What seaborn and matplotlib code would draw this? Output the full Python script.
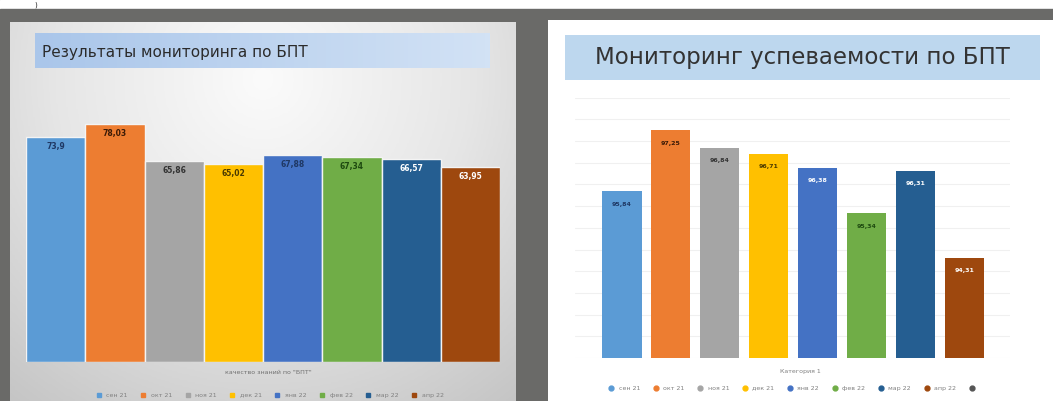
import numpy as np
import pandas as pd
import matplotlib
matplotlib.use("Agg")
import matplotlib.pyplot as plt
from matplotlib.patches import Rectangle
from matplotlib.lines import Line2D
from matplotlib.colors import LinearSegmentedColormap
import seaborn as sns

# data
periods = ["сен 21", "окт 21", "ноя 21", "дек 21", "янв 22", "фев 22", "мар 22", "апр 22"]
quality_values = [73.9, 78.03, 65.86, 65.02, 67.88, 67.34, 66.57, 63.95]
progress_values = [95.84, 97.25, 96.84, 96.71, 96.38, 95.34, 96.31, 94.31]
left_title = "Результаты мониторинга по БПТ"
right_title = "Мониторинг успеваемости по БПТ"
left_xlabel = "качество знаний по \"БПТ\""
right_xlabel = "Категория 1"

colors = ["#5B9BD5", "#ED7D31", "#A5A5A5", "#FFC000", "#4472C4", "#70AD47", "#255E91", "#9E480E"]
left_text = ["#1f3864", "#3b1a06", "#333333", "#4a3a00", "#1f3864", "#1e4a10", "#ffffff", "#ffffff"]
right_text = ["#1f3864", "#3b1a06", "#333333", "#4a3a00", "#ffffff", "#1e4a10", "#ffffff", "#ffffff"]

sns.set_style("white")
plt.rcParams['font.family'] = ['DejaVu Sans']

W, H = 1053, 401
fig = plt.figure(figsize=(W / 100, H / 100), dpi=100)
fig.patch.set_facecolor("#666666")


def box(x0, y0, x1, y1):
    return [x0 / W, 1 - y1 / H, (x1 - x0) / W, (y1 - y0) / H]


# background: white strip on top of the photo
bg = fig.add_axes([0, 0, 1, 1])
bg.set_xlim(0, W)
bg.set_ylim(H, 0)
bg.axis("off")
bg.add_patch(Rectangle((0, 0), W, 9, color="white"))
bg.add_patch(Rectangle((0, 9), W, H, color="#6a6a68"))
bg.text(36, 5, ")", fontsize=5, color="#222222", va="center", ha="center")

# left slide with light gray radial gradient
gl = fig.add_axes(box(10, 22, 516, 401))
yy, xx = np.mgrid[0:1:200j, 0:1:200j]
r = np.sqrt(((xx - 0.5) / 0.75) ** 2 + ((yy - 0.15) / 1.0) ** 2)
grey_cm = LinearSegmentedColormap.from_list("g", ["#fbfbfb", "#e6e6e6", "#c4c4c4"])
gl.imshow(r, cmap=grey_cm, vmin=0, vmax=1.1, aspect="auto", extent=[0, 1, 1, 0])
gl.axis("off")

# right slide, plain white
gr = fig.add_axes(box(548, 20, 1053, 401))
gr.set_facecolor("white")
gr.set_xticks([])
gr.set_yticks([])
for s in gr.spines.values():
    s.set_visible(False)

# title bands
tl = fig.add_axes(box(35, 33, 490, 68))
tl.imshow(np.linspace(0, 1, 100)[None, :],
          cmap=LinearSegmentedColormap.from_list("b", ["#aac6ea", "#d2e2f5"]),
          aspect="auto", extent=[0, 1, 0, 1])
tl.axis("off")
tl.text(0.015, 0.45, left_title, fontsize=11, color="#2b2b2b", va="center", ha="left")

tr = fig.add_axes(box(565, 35, 1040, 80))
tr.set_facecolor("#bdd7ee")
tr.set_xticks([])
tr.set_yticks([])
for s in tr.spines.values():
    s.set_visible(False)
tr.text(0.5, 0.5, right_title, fontsize=16.5, color="#333333", va="center", ha="center")

# left chart
df_l = pd.DataFrame({"period": periods, "value": quality_values})
axl = fig.add_axes(box(26, 87.5, 500, 362))
axl.patch.set_alpha(0)
sns.barplot(data=df_l, x="period", y="value", hue="period", palette=colors, saturation=1,
            width=1.0, ax=axl, legend=False, edgecolor="#f4f4f4", linewidth=1)
axl.set_ylim(0, 90)
axl.set_xlim(-0.5, 7.5)
axl.set_xticks([])
axl.set_yticks([])
axl.set_xlabel("")
axl.set_ylabel("")
for s in axl.spines.values():
    s.set_visible(False)
for i, v in enumerate(quality_values):
    axl.text(i, v - 3.2, f"{v:g}".replace(".", ","), ha="center", va="center",
             fontsize=5.5, fontweight="bold", color=left_text[i])
fig.text(268 / W, 1 - 373 / H, left_xlabel, fontsize=4.5, color="#707070", ha="center", va="center")
hl = [Line2D([], [], marker="s", ls="", color=c, markersize=3.5) for c in colors]
fig.legend(hl, periods, loc="center", bbox_to_anchor=(268 / W, 1 - 395 / H), ncol=8,
           fontsize=4.5, frameon=False, handletextpad=0.2, columnspacing=1.5,
           labelcolor="#808080")

# right chart
df_r = pd.DataFrame({"period": periods, "value": progress_values})
axr = fig.add_axes(box(575, 97.6, 1010, 358))
axr.set_facecolor("none")
sns.barplot(data=df_r, x="period", y="value", hue="period", palette=colors, saturation=1,
            width=0.8, ax=axr, legend=False, linewidth=0)
axr.set_ylim(92, 98)
axr.set_xlim(-0.96, 7.93)
axr.set_yticks(np.arange(92, 98.01, 0.5))
axr.yaxis.grid(True, color="#f0f0f0", linewidth=0.8)
axr.set_axisbelow(True)
axr.tick_params(left=False, labelleft=False, bottom=False, labelbottom=False)
axr.set_xlabel("")
axr.set_ylabel("")
for s in axr.spines.values():
    s.set_visible(False)
for i, v in enumerate(progress_values):
    axr.text(i, v - 0.3, f"{v:.2f}".replace(".", ","), ha="center", va="center",
             fontsize=4.5, fontweight="bold", color=right_text[i])
fig.text(800 / W, 1 - 372 / H, right_xlabel, fontsize=4.5, color="#808080", ha="center", va="center")
hr = [Line2D([], [], marker="o", ls="", color=c, markersize=3.5) for c in colors]
hr.append(Line2D([], [], marker="o", ls="", color="#555555", markersize=3.5))
fig.legend(hr, periods + [""], loc="center", bbox_to_anchor=(792 / W, 1 - 388 / H), ncol=9,
           fontsize=4.5, frameon=False, handletextpad=0.2, columnspacing=1.5,
           labelcolor="#808080")

fig.savefig("out.png", dpi=100)
